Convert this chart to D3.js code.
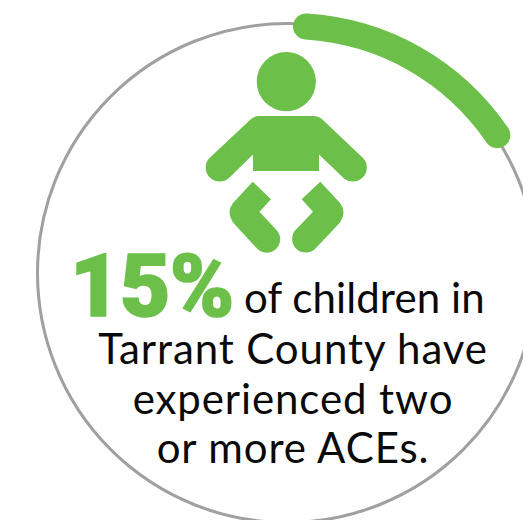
<!DOCTYPE html>
<html>
<head>
<meta charset="utf-8">
<script src="https://cdn.jsdelivr.net/npm/d3@7"></script>
<style>
  html, body { margin: 0; padding: 0; background: #fff; overflow: hidden; }
  svg { display: block; }
</style>
</head>
<body>
<script>
// Share of children with two or more ACEs
const percentValue = 15;
const percentLabel = "15%";
const firstLine = "of children in";
const bodyLines = ["Tarrant County have", "experienced two", "or more ACEs."];

const green = "#6cc04a";
const ringGrey = "#a0a0a0";
const ink = "#0a0a0a";

const width = 523, height = 520;
const cx = 287, cy = 273, ringRadius = 249.5;

const svg = d3.select("body").append("svg")
  .attr("width", width).attr("height", height);

// Full ring
svg.append("circle")
  .attr("cx", cx).attr("cy", cy).attr("r", ringRadius)
  .attr("fill", "none").attr("stroke", ringGrey).attr("stroke-width", 3);

// Progress arc: the percentage mapped onto a full turn, sitting slightly
// off the ring's centre
const angle = d3.scaleLinear().domain([0, 100]).range([0, 2 * Math.PI]);
const startAngle = 0.46 * Math.PI / 180;
const capAllowance = 0.075;
svg.append("path")
  .attr("transform", `translate(${cx + 4},${cy + 2.5})`)
  .attr("fill", green)
  .attr("d", d3.arc()
    .innerRadius(ringRadius - 13)
    .outerRadius(ringRadius + 13)
    .cornerRadius(13)
    .startAngle(startAngle)
    .endAngle(startAngle + angle(percentValue) + capAllowance)());

// Baby pictogram
const baby = svg.append("g").attr("fill", green);
baby.append("circle").attr("cx", 286.3).attr("cy", 81.6).attr("r", 29.6);
baby.append("path").attr("d",
  "M259 116 H313 Q319 116 323 120 L363.5 158.5 A14 14 0 0 1 343.5 178 L319 154.5 V171 H253 V154.5 L229 178 A14 14 0 0 1 209 158.5 L250 120 Q254 116 259 116 Z");
baby.append("path").attr("d",
  "M252.7 181.7 L271 199.3 L259.5 211.7 L276.5 230 A13.4 13.4 0 0 1 257 248.5 L233 222.5 Q226 212 233 203 Z");
baby.append("path").attr("d",
  "M320.3 181.7 L301.7 199.3 L313 211.7 L296 229.5 A13.4 13.4 0 0 0 315.5 248.5 L340 222.5 Q347 212 340 203 Z");

// Headline figure and text block
svg.append("text")
  .attr("x", 70).attr("y", 316)
  .attr("fill", green)
  .attr("stroke", green).attr("stroke-width", 1.6)
  .style("font-family", "Roboto, sans-serif")
  .style("font-size", "87px").style("font-weight", 900)
  .style("letter-spacing", "-0.5px")
  .text(percentLabel);

svg.append("text")
  .attr("x", 244).attr("y", 313)
  .attr("fill", ink)
  .style("font-family", "Lato, sans-serif")
  .style("font-size", "42px")
  .style("letter-spacing", "0.1px")
  .text(firstLine);

const baselines = [364, 413.5, 463];
svg.selectAll("text.body").data(bodyLines).join("text")
  .attr("class", "body")
  .attr("x", 293).attr("y", (d, i) => baselines[i])
  .attr("text-anchor", "middle")
  .attr("fill", ink)
  .style("font-family", "Lato, sans-serif")
  .style("font-size", "42px")
  .style("letter-spacing", "0.9px")
  .text(d => d);
</script>
</body>
</html>
